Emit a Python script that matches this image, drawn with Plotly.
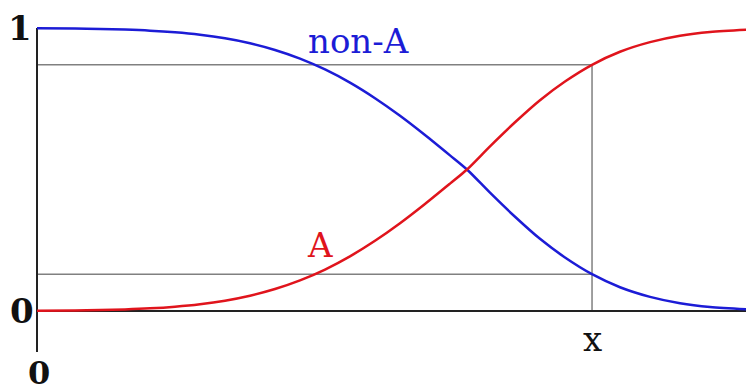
import plotly.graph_objects as go

# x positions in axis units (0 = origin, 1 = right edge of the chart)
x_vals = [0.0, 0.0530, 0.0879, 0.1227, 0.1576, 0.1925, 0.2273, 0.2622, 0.2971,
          0.3319, 0.3668, 0.4017, 0.4365, 0.4714, 0.5063, 0.5411, 0.5760, 0.5997,
          0.6318, 0.6667, 0.7015, 0.7364, 0.7741, 0.8131, 0.8550, 0.8968, 0.9386, 1.0]
a_vals = [0.0007, 0.0018, 0.0033, 0.0057, 0.0094, 0.0153, 0.0240, 0.0365, 0.0540,
          0.0775, 0.108, 0.1464, 0.193, 0.248, 0.310, 0.378, 0.450, 0.500,
          0.582, 0.667, 0.745, 0.811, 0.870, 0.916, 0.950, 0.9725, 0.9857, 0.9951]
non_a_vals = [0.9993, 0.9982, 0.9967, 0.9943, 0.9906, 0.9847, 0.9760, 0.9635, 0.9460,
              0.9225, 0.892, 0.8536, 0.807, 0.752, 0.690, 0.622, 0.550, 0.500,
              0.418, 0.333, 0.255, 0.189, 0.130, 0.084, 0.050, 0.0275, 0.0143, 0.0049]

x_mark = 0.7741
level_hi = 0.87
level_lo = 0.13

blue = "#1c1cd6"
red = "#e0141c"

fig = go.Figure()
fig.add_trace(go.Scatter(x=x_vals, y=non_a_vals, mode="lines",
                         line=dict(color=blue, width=2.5, shape="spline", smoothing=0.8),
                         hoverinfo="skip", showlegend=False))
fig.add_trace(go.Scatter(x=x_vals, y=a_vals, mode="lines",
                         line=dict(color=red, width=2.5, shape="spline", smoothing=0.8),
                         hoverinfo="skip", showlegend=False))

gray = dict(color="#808080", width=1.5)
axis_line = dict(color="#222222", width=2)
shapes = [
    dict(type="line", xref="x", yref="y", x0=0, x1=x_mark, y0=level_hi, y1=level_hi, line=gray, layer="below"),
    dict(type="line", xref="x", yref="y", x0=0, x1=x_mark, y0=level_lo, y1=level_lo, line=gray, layer="below"),
    dict(type="line", xref="x", yref="y", x0=x_mark, x1=x_mark, y0=0, y1=level_hi, line=gray, layer="below"),
    dict(type="line", xref="x", yref="y", x0=0, x1=1.0, y0=0, y1=0, line=axis_line, layer="below"),
    dict(type="line", xref="x", yref="y", x0=0, x1=0, y0=-0.145, y1=1.0, line=axis_line, layer="below"),
]

serif = "DejaVu Serif"
annotations = [
    dict(x=-0.0235, y=1.0, text="<b>1</b>", font=dict(family=serif, size=34, color="#111111")),
    dict(x=-0.0215, y=0.0, text="<b>0</b>", font=dict(family=serif, size=34, color="#111111")),
    dict(x=0.003, y=-0.22, text="<b>0</b>", font=dict(family=serif, size=32, color="#111111")),
    dict(x=x_mark, y=-0.10, text="x", font=dict(family=serif, size=34, color="#111111")),
    dict(x=0.448, y=0.955, text="non-A", font=dict(family=serif, size=34, color=blue)),
    dict(x=0.395, y=0.235, text="A", font=dict(family=serif, size=34, color=red)),
]
for a in annotations:
    a.update(xref="x", yref="y", showarrow=False, xanchor="center", yanchor="middle")

# The page body has an 8px margin, so the figure is sized and ranged to fit the window.
fig.update_layout(
    width=746, height=383,
    margin=dict(l=0, r=0, t=0, b=0),
    paper_bgcolor="white", plot_bgcolor="white",
    xaxis=dict(range=[-0.04045, 1.0], visible=False, fixedrange=True),
    yaxis=dict(range=[-0.2827, 1.0707], visible=False, fixedrange=True),
    shapes=shapes, annotations=annotations,
)
fig.write_html("out.html")
